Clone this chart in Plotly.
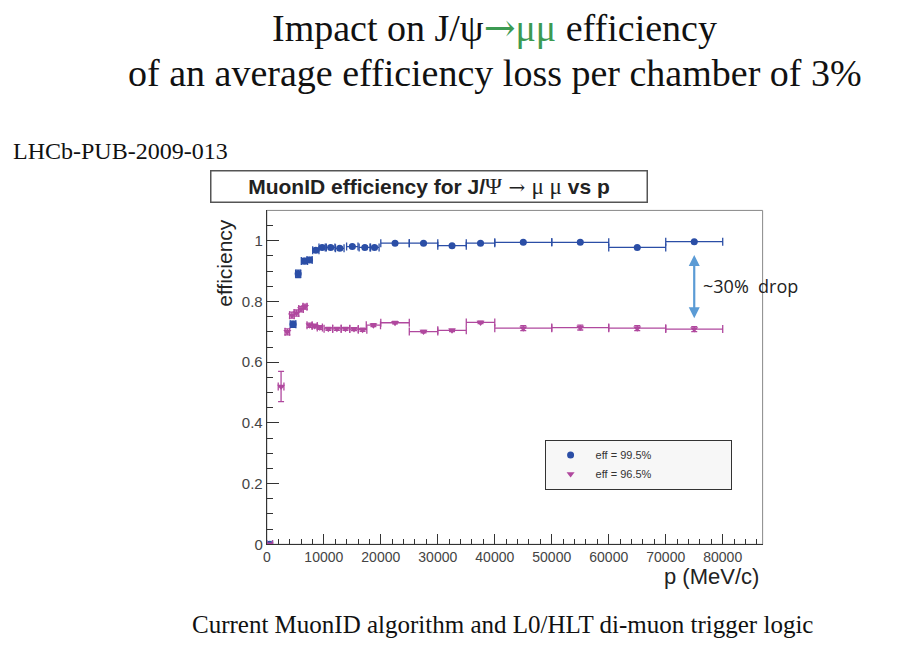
import plotly.graph_objects as go

# ---- J/psi -> mu mu muon-ID efficiency vs momentum ----
# nominal chamber efficiency (blue circles)
p_nom = [500, 4600, 5500, 6600, 7500, 8600, 9700, 11200, 12800, 15000, 17200, 18900,
         22500, 27500, 32500, 37500, 45000, 55000, 65000, 75000]
dp_nom = [500, 500, 450, 550, 450, 550, 550, 750, 750, 1000, 1000, 800,
          2500, 2500, 2500, 2500, 5000, 5000, 5000, 5000]
eff_nom = [0.0, 0.725, 0.891, 0.933, 0.937, 0.969, 0.978, 0.978, 0.975, 0.981, 0.978, 0.978,
           0.992, 0.992, 0.984, 0.992, 0.995, 0.995, 0.978, 0.997]
err_nom = [0.0, 0.010, 0.012, 0.009, 0.008, 0.006, 0.005, 0.005, 0.005, 0.004, 0.004, 0.004,
           0.003, 0.003, 0.003, 0.003, 0.003, 0.003, 0.003, 0.003]

# 3% average loss per chamber (magenta triangles)
p_loss = [500, 2500, 3600, 4400, 5200, 6000, 6700, 7500, 8400, 9300, 10800, 12300, 13800,
          15300, 16800, 18700, 22500, 27500, 32500, 37500, 45000, 55000, 65000, 75000]
dp_loss = [500, 500, 400, 400, 400, 400, 350, 450, 450, 450, 750, 750, 750,
           750, 750, 1250, 2500, 2500, 2500, 2500, 5000, 5000, 5000, 5000]
eff_loss = [0.0, 0.52, 0.700, 0.755, 0.762, 0.775, 0.783, 0.722, 0.719, 0.714, 0.710, 0.710, 0.710,
            0.709, 0.707, 0.722, 0.730, 0.701, 0.705, 0.731, 0.712, 0.714, 0.712, 0.709]
err_loss = [0.0, 0.05, 0.010, 0.010, 0.010, 0.009, 0.008, 0.007, 0.006, 0.006, 0.005, 0.005, 0.005,
            0.005, 0.005, 0.005, 0.004, 0.004, 0.004, 0.004, 0.008, 0.008, 0.008, 0.008]

legend_names = ["eff = 99.5%", "eff = 96.5%"]
x_ticks = [0, 10000, 20000, 30000, 40000, 50000, 60000, 70000, 80000]

BLUE = "#2b4ea6"
PINK = "#b0489e"
W, H = 899, 660
L, R, T, B = 264, 762, 213, 551
PAD = "\u00a0" * 24  # widens the legend box

fig = go.Figure()

fig.add_trace(go.Scatter(
    x=p_nom, y=eff_nom, mode="markers", name=legend_names[0] + PAD,
    marker=dict(symbol="circle", size=7, color=BLUE),
    error_x=dict(type="data", array=dp_nom, color=BLUE, thickness=1.3, width=4),
    error_y=dict(type="data", array=err_nom, color=BLUE, thickness=1.3, width=3),
))
fig.add_trace(go.Scatter(
    x=p_loss, y=eff_loss, mode="markers", name=legend_names[1] + PAD,
    marker=dict(symbol="triangle-down", size=7, color=PINK),
    error_x=dict(type="data", array=dp_loss, color=PINK, thickness=1.3, width=4),
    error_y=dict(type="data", array=err_loss, color=PINK, thickness=1.3, width=3),
))

axis_font = dict(family="Liberation Sans", size=14, color="#444")
fig.update_xaxes(
    domain=[L / W, R / W], range=[0, 87000], tickvals=x_ticks, tickformat="d",
    ticks="inside", ticklen=10, tickcolor="#333", tickwidth=1,
    minor=dict(dtick=2000, ticks="inside", ticklen=5, tickcolor="#333"),
    showline=True, linecolor="#333", linewidth=1.2, showgrid=False, zeroline=False,
    tickfont=axis_font,
)
fig.update_yaxes(
    domain=[(H - B) / H, (H - T) / H], range=[0, 1.1], dtick=0.2,
    ticks="inside", ticklen=12, tickcolor="#333", tickwidth=1,
    minor=dict(dtick=0.05, ticks="inside", ticklen=6, tickcolor="#333"),
    showline=True, linecolor="#333", linewidth=1.2, showgrid=False, zeroline=False,
    tickfont=dict(family="Liberation Sans", size=15, color="#444"),
)

# top and right frame of the pad
fig.add_shape(type="rect", xref="paper", yref="paper",
              x0=L / W, x1=R / W, y0=(H - B) / H, y1=(H - T) / H,
              line=dict(color="#888", width=1), layer="below")

serif = "Liberation Serif"
arrow_span = '<span style="font-family:DejaVu Serif">→</span>'
ann = [
    dict(text=f'Impact on J/ψ<span style="color:#3c9a52">{arrow_span}μμ</span> efficiency',
         x=493 / W, y=(H - 28) / H, font=dict(family=serif, size=38, color="#111")),
    dict(text="of an average efficiency loss per chamber of 3%",
         x=493 / W, y=(H - 74) / H, font=dict(family=serif, size=38, color="#111")),
    dict(text="LHCb-PUB-2009-013", x=7 / W, y=(H - 153) / H, xanchor="left",
         font=dict(family=serif, size=24, color="#111")),
    dict(text="Current MuonID algorithm and L0/HLT di-muon trigger logic",
         x=501 / W, y=(H - 632) / H, font=dict(family=serif, size=25, color="#111")),
    dict(text='<b>MuonID efficiency for J/</b><span style="font-family:Liberation Serif;font-size:23px">Ψ'
              '<span style="font-family:DejaVu Serif;font-size:20px"> → </span>μ μ</span><b> vs p</b>',
         x=427 / W, y=(H - 189) / H, width=433, height=28,
         bordercolor="#555", borderwidth=1.5, bgcolor="white",
         font=dict(family="Liberation Sans", size=21, color="#222")),
    dict(text="efficiency", x=222 / W, y=(H - 266) / H, textangle=-90,
         font=dict(family="Liberation Sans", size=21, color="#222")),
    dict(text="p (MeV/c)", x=760 / W, y=(H - 584) / H, xanchor="right",
         font=dict(family="Liberation Sans", size=22, color="#222")),
    dict(text="~30%\u00a0\u00a0drop", x=700 / W, y=(H - 290) / H, xanchor="left",
         font=dict(family="Open Sans", size=18, color="#222")),
]
for a in ann:
    a.setdefault("xanchor", "center")
    a.setdefault("yanchor", "middle")
    fig.add_annotation(xref="paper", yref="paper", showarrow=False, **a)

# double-headed arrow marking the efficiency drop at the last bin
fig.add_annotation(x=p_nom[-1], y=0.745, ax=p_nom[-1], ay=0.958,
                   xref="x", yref="y", axref="x", ayref="y", text="",
                   showarrow=True, arrowside="end+start", arrowhead=2,
                   arrowsize=1, arrowwidth=2.2, arrowcolor="#5b9bd5")

fig.update_layout(
    width=W, height=H, margin=dict(l=0, r=0, t=0, b=0),
    paper_bgcolor="white", plot_bgcolor="white",
    showlegend=True,
    legend=dict(x=543 / W, y=(H - 445) / H, xanchor="left", yanchor="top",
                bgcolor="#f7f7f7", bordercolor="#333", borderwidth=1,
                font=dict(family="Liberation Sans", size=11, color="#333"),
                itemwidth=40, tracegroupgap=0),
)

fig.write_html("out.html")
